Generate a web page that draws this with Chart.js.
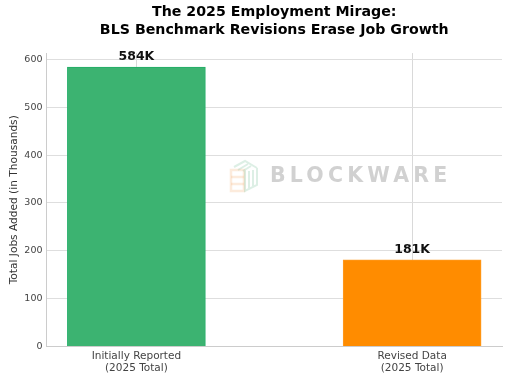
<!DOCTYPE html>
<html>
<head>
<meta charset="utf-8">
<style>
  html, body { margin: 0; padding: 0; background: #fff; }
  canvas { display: block; }
</style>
<script src="https://cdn.jsdelivr.net/npm/chart.js@4/dist/chart.umd.js"></script>
</head>
<body>
<canvas id="chart" width="512" height="384"></canvas>
<script>
const categories = [['Initially Reported', '(2025 Total)'], ['Revised Data', '(2025 Total)']];
const jobsAdded = [584, 181];
const valueLabels = ['584K', '181K'];
const barColors = ['#3cb371', '#ff8c00'];
const barBorders = ['#20ad66', '#ff9a20'];
const yTicks = [0, 100, 200, 300, 400, 500, 600];
const titleLines = ['The 2025 Employment Mirage:', 'BLS Benchmark Revisions Erase Job Growth'];
const yAxisTitle = 'Total Jobs Added (in Thousands)';
const watermark = 'BLOCKWARE';

const font = 'DejaVu Sans';

// value labels above the bars
const barLabels = {
  id: 'barLabels',
  afterDatasetsDraw(chart) {
    const ctx = chart.ctx;
    const meta = chart.getDatasetMeta(0);
    ctx.save();
    ctx.font = `bold 12.5px "${font}"`;
    ctx.fillStyle = '#111';
    ctx.textAlign = 'center';
    ctx.textBaseline = 'alphabetic';
    meta.data.forEach((bar, i) => {
      ctx.fillText(valueLabels[i], bar.x, bar.y - 7);
    });
    ctx.restore();
  }
};

// faint logo and company name across the middle
const watermarkPlugin = {
  id: 'watermarkPlugin',
  afterDraw(chart) {
    const ctx = chart.ctx;
    ctx.save();
    ctx.font = `bold 20.5px "${font}"`;
    ctx.fillStyle = 'rgba(190,190,190,0.7)';
    ctx.textBaseline = 'middle';
    ctx.textAlign = 'left';
    ctx.letterSpacing = '4.2px';
    ctx.fillText(watermark, 270, 177);
    ctx.letterSpacing = '0px';

    ctx.lineWidth = 2.5;
    ctx.strokeStyle = 'rgba(245,190,140,0.3)';
    ctx.strokeRect(231, 170, 13, 21);
    ctx.beginPath();
    ctx.moveTo(231, 177);
    ctx.lineTo(244, 177);
    ctx.moveTo(231, 184);
    ctx.lineTo(244, 184);
    ctx.stroke();
    ctx.lineWidth = 2;
    ctx.strokeStyle = 'rgba(120,190,150,0.25)';
    ctx.beginPath();
    ctx.moveTo(245, 170);
    ctx.lineTo(245, 191);
    ctx.lineTo(257, 185);
    ctx.lineTo(257, 168);
    ctx.moveTo(249, 171);
    ctx.lineTo(249, 188);
    ctx.moveTo(253, 170);
    ctx.lineTo(253, 186);
    ctx.moveTo(234, 167);
    ctx.lineTo(245, 161);
    ctx.lineTo(257, 168);
    ctx.moveTo(238, 170);
    ctx.lineTo(248, 164);
    ctx.moveTo(243, 171);
    ctx.lineTo(251, 166);
    ctx.stroke();
    ctx.restore();
  }
};

new Chart(document.getElementById('chart'), {
  type: 'bar',
  data: {
    datasets: [{
      data: jobsAdded.map((v, i) => ({ x: i, y: v })),
      backgroundColor: barColors,
      borderColor: barBorders,
      borderWidth: 1,
      barThickness: 138
    }]
  },
  options: {
    responsive: false,
    animation: false,
    layout: { padding: { left: 0, right: 10, top: 0, bottom: 0 } },
    plugins: {
      legend: { display: false },
      tooltip: { enabled: false },
      title: {
        display: true,
        fullSize: false,
        text: titleLines,
        color: '#000',
        font: { family: font, size: 14.2, weight: 'bold', lineHeight: 1.27 },
        padding: { top: 3, bottom: 14 }
      }
    },
    scales: {
      x: {
        type: 'linear',
        offset: false,
        min: -0.326,
        max: 1.326,
        afterBuildTicks(scale) {
          scale.ticks = categories.map((c, i) => ({ value: i }));
        },
        afterFit(scale) { scale.height = 37.5; },
        ticks: {
          color: '#444',
          font: { family: font, size: 10.5 },
          padding: 3,
          maxRotation: 0,
          autoSkip: false,
          callback: (v) => categories[v]
        },
        grid: { offset: false, color: '#d9d9d9', drawTicks: false },
        border: { color: '#cccccc' }
      },
      y: {
        min: 0,
        max: 613.2,
        afterBuildTicks(scale) {
          scale.ticks = yTicks.map(v => ({ value: v }));
        },
        afterFit(scale) { scale.width = 46.5; },
        ticks: {
          color: '#444',
          font: { family: font, size: 9.5 },
          padding: 4
        },
        title: {
          display: true,
          text: yAxisTitle,
          color: '#333',
          font: { family: font, size: 10.6 },
          padding: { top: 8, bottom: 0 }
        },
        grid: { color: '#dedede', drawTicks: false },
        border: { color: '#cccccc' }
      }
    }
  },
  plugins: [barLabels, watermarkPlugin]
});
</script>
</body>
</html>
